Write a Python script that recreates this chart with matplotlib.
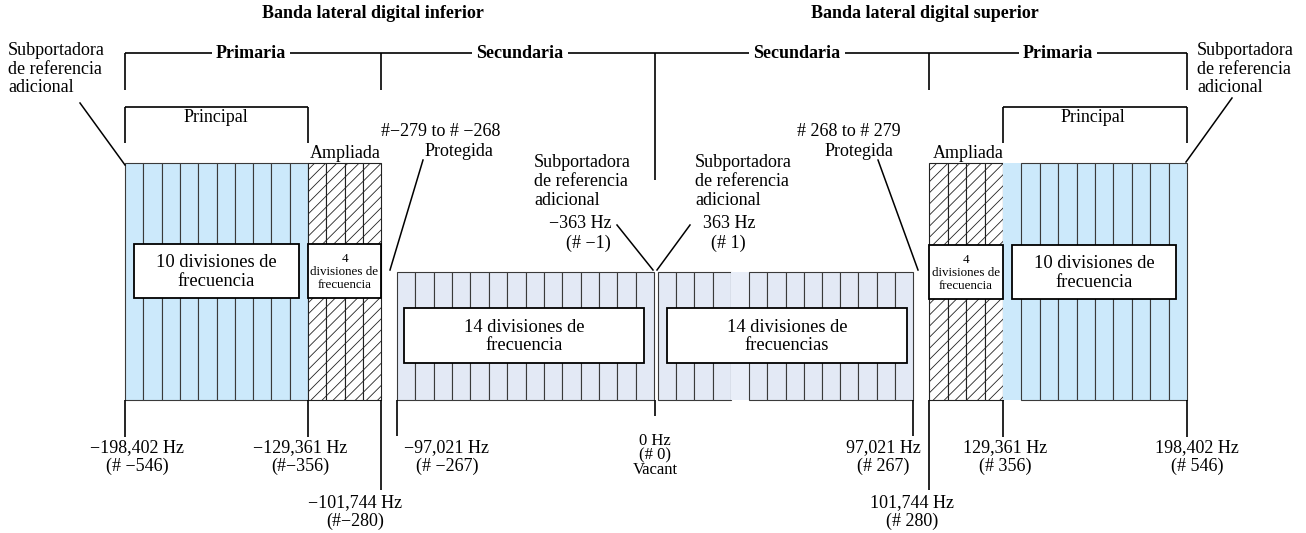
import matplotlib.pyplot as plt
from matplotlib.patches import Rectangle

plt.rcParams['font.family'] = ['Liberation Serif', 'DejaVu Serif']
plt.rcParams['hatch.linewidth'] = 0.6

# bloques de subportadoras (coordenadas del esquema, en px)
band_left = [125, 308, 397, 658, 929, 1003]
band_right = [308, 381, 654, 913, 1003, 1187]
band_div = [10, 4, 14, 14, 4, 10]
band_kind = ['main', 'ext', 'sec', 'sec', 'ext', 'main']
band_top = [163, 163, 272, 272, 163, 163]
band_bottom = 400
# celdas sin borde (bloque, indice)
blank_cells = [(3, 4), (5, 0)]

# cajas de texto dentro de los bloques
box_x0 = [134, 308, 404, 667, 929, 1012]
box_x1 = [299, 381, 644, 907, 1003, 1176]
box_y0 = [244, 244, 308, 308, 245, 245]
box_y1 = [298, 298, 363, 363, 299, 299]
box_text = ['10 divisiones de\nfrecuencia', '4\ndivisiones de\nfrecuencia',
            '14 divisiones de\nfrecuencia', '14 divisiones de\nfrecuencias',
            '4\ndivisiones de\nfrecuencia', '10 divisiones de\nfrecuencia']
box_fs = [13.3, 9.4, 13.3, 13.3, 9.4, 13.3]

# frecuencias inferiores
freq_x = [125, 308, 381, 397, 655, 913, 929, 1003, 1187]
freq_tick_end = [437, 437, 490, 436, 416, 436, 490, 437, 437]
freq_label = ['\u2212198,402 Hz\n(# \u2212546)', '\u2212129,361 Hz\n(#\u2212356)',
              '\u2212101,744 Hz\n(#\u2212280)', '\u221297,021 Hz\n(# \u2212267)',
              '0 Hz\n(# 0)\nVacant', '97,021 Hz\n(# 267)', '101,744 Hz\n(# 280)',
              '129,361 Hz\n(# 356)', '198,402 Hz\n(# 546)']
freq_lx = [137, 300, 355, 447, 655, 883, 912, 1005, 1197]
freq_ly = [439, 439, 494, 439, 433, 439, 494, 439, 439]

# llaves superiores
top_y = 53
top_ticks = [125, 381, 655, 929, 1187]
top_tick_end = [90, 90, 180, 90, 90]
top_names = ['Primaria', 'Secundaria', 'Secundaria', 'Primaria']
top_names_x = [251, 520, 797, 1058]

princ_y = 107
princ_left = [125, 1003]
princ_right = [308, 1187]
princ_x = [216, 1093]

col_main = '#cce9fb'
col_sec = '#e3e9f5'
col_line = '#3a3a3a'
fs = 13

fig = plt.figure(figsize=(13.06, 5.33), dpi=100)
ax = fig.add_axes([0, 0, 1, 1])
ax.set_xlim(0, 1306)
ax.set_ylim(533, 0)
ax.axis('off')

for b in range(len(band_left)):
    w = (band_right[b] - band_left[b]) / band_div[b]
    h = band_bottom - band_top[b]
    for i in range(band_div[b]):
        x0 = band_left[b] + i * w
        if band_kind[b] == 'ext':
            ax.add_patch(Rectangle((x0, band_top[b]), w, h, facecolor='white',
                                   edgecolor='#222222', hatch='///', lw=0.8))
        else:
            fc = col_main if band_kind[b] == 'main' else col_sec
            if (b, i) in blank_cells:
                ax.add_patch(Rectangle((x0, band_top[b]), w, h, facecolor=fc if b == 5 else '#e9eef8',
                                       edgecolor='none'))
            else:
                ax.add_patch(Rectangle((x0, band_top[b]), w, h, facecolor=fc,
                                       edgecolor=col_line, lw=0.8))

for i in range(len(box_text)):
    ax.add_patch(Rectangle((box_x0[i], box_y0[i]), box_x1[i] - box_x0[i], box_y1[i] - box_y0[i],
                           facecolor='white', edgecolor='black', lw=1.3, zorder=3))
    ax.text((box_x0[i] + box_x1[i]) / 2, (box_y0[i] + box_y1[i]) / 2 + 1, box_text[i],
            ha='center', va='center', fontsize=box_fs[i], zorder=4,
            linespacing=1.1 if box_fs[i] < 11 else 1.15)

# lineas de frecuencia y etiquetas
ax.vlines(freq_x, band_bottom, freq_tick_end, color='black', lw=1.2)
for i in range(len(freq_x)):
    ax.text(freq_lx[i], freq_ly[i], freq_label[i], ha='center', va='top',
            fontsize=12 if i == 4 else fs, linespacing=0.88 if i == 4 else 1.12)

# llave superior
ax.hlines(top_y, top_ticks[0], top_ticks[-1], color='black', lw=1.2)
ax.vlines(top_ticks, top_y, top_tick_end, color='black', lw=1.2)
for i in range(len(top_names)):
    ax.text(top_names_x[i], top_y, top_names[i], ha='center', va='center', fontsize=13,
            fontweight='bold', bbox=dict(facecolor='white', edgecolor='none', pad=3))

ax.text(373, 14, 'Banda lateral digital inferior', ha='center', va='center',
        fontsize=13, fontweight='bold')
ax.text(925, 14, 'Banda lateral digital superior', ha='center', va='center',
        fontsize=13, fontweight='bold')

# llaves Principal
for i in range(2):
    ax.hlines(princ_y, princ_left[i], princ_right[i], color='black', lw=1.2)
    ax.vlines([princ_left[i], princ_right[i]], princ_y, 143, color='black', lw=1.2)
    ax.text(princ_x[i], 118, 'Principal', ha='center', va='center', fontsize=fs,
            bbox=dict(facecolor='white', edgecolor='none', pad=1))

ax.text(345, 154, 'Ampliada', ha='center', va='center', fontsize=fs)
ax.text(968, 154, 'Ampliada', ha='center', va='center', fontsize=fs)

# subportadoras de referencia
sub_txt = 'Subportadora\nde referencia\nadicional'
ax.text(8, 42, sub_txt, ha='left', va='top', fontsize=fs, linespacing=1.13)
ax.text(1197, 42, sub_txt, ha='left', va='top', fontsize=fs, linespacing=1.13)
ax.plot([80, 125], [103, 165], color='black', lw=1.1)
ax.plot([1232, 1186], [98, 162], color='black', lw=1.1)

ax.text(534, 154, sub_txt, ha='left', va='top', fontsize=fs, linespacing=1.15)
ax.text(695, 154, sub_txt, ha='left', va='top', fontsize=fs, linespacing=1.15)
ax.text(580, 224, '\u2212363 Hz', ha='center', va='center', fontsize=fs)
ax.text(588, 243, '(# \u22121)', ha='center', va='center', fontsize=fs)
ax.text(729, 224, '363 Hz', ha='center', va='center', fontsize=fs)
ax.text(728, 243, '(# 1)', ha='center', va='center', fontsize=fs)
ax.plot([617, 653], [225, 270], color='black', lw=1.1)
ax.plot([690, 657], [225, 270], color='black', lw=1.1)

# protegidas
ax.text(441, 132, '#\u2212279 to # \u2212268', ha='center', va='center', fontsize=fs)
ax.text(459, 152, 'Protegida', ha='center', va='center', fontsize=fs)
ax.plot([423, 390], [160, 270], color='black', lw=1.1)
ax.text(849, 132, '# 268 to # 279', ha='center', va='center', fontsize=fs)
ax.text(859, 152, 'Protegida', ha='center', va='center', fontsize=fs)
ax.plot([878, 918], [160, 270], color='black', lw=1.1)

fig.savefig('out.png', dpi=100)
